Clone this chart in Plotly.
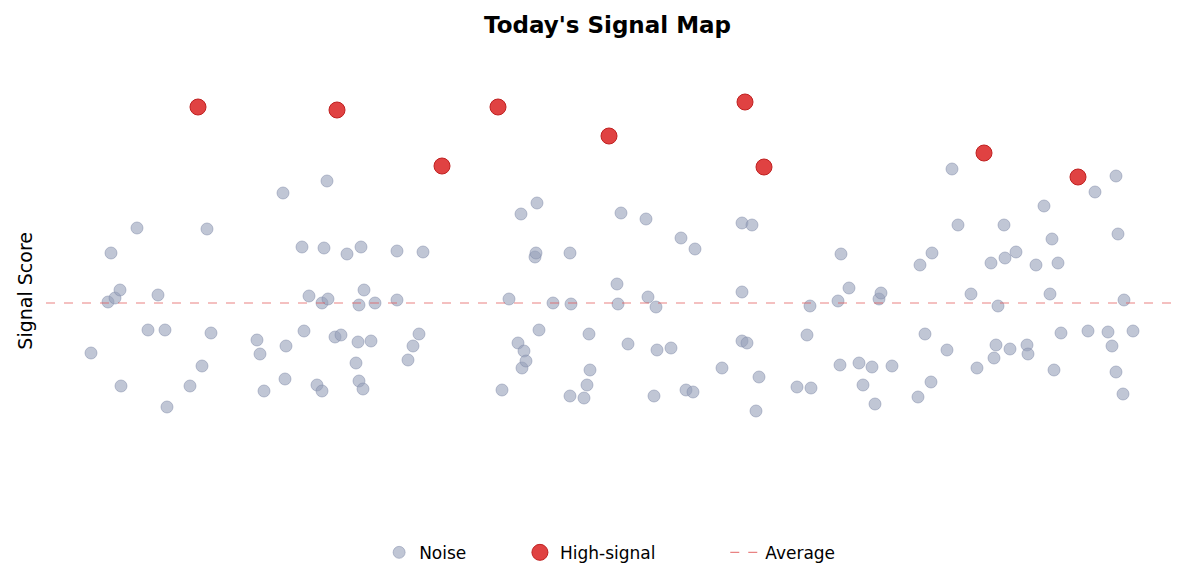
import plotly.graph_objects as go

# positions (x in time units, y = score units, top is high)
noise_x = [90, 107, 114, 110, 119, 120, 136, 147, 157, 164, 166, 189, 201, 206, 210,
           256, 259, 263, 282, 284, 285, 301, 303, 308, 316, 321, 321, 323, 326, 327, 334, 340, 346, 355, 357, 358, 358, 360, 362, 363, 370, 374, 396, 396, 407, 412, 418, 422,
           501, 508, 517, 520, 521, 523, 525, 534, 535, 536, 538, 552, 569, 570, 569, 583, 586, 588, 589, 616, 617, 620, 627, 645, 647, 653, 655, 656, 670, 680, 685, 692, 694,
           721, 741, 741, 741, 746, 751, 755, 758, 796, 806, 809, 810, 837, 839, 840, 848, 858, 862, 871, 874, 878, 880, 891,
           917, 919, 924, 930, 931, 946, 951, 957, 970, 976, 990, 993, 995, 997, 1003, 1004, 1009, 1015, 1026, 1027, 1035, 1043, 1049, 1051, 1053, 1057, 1060, 1087, 1094, 1107, 1111, 1115, 1115, 1117, 1122, 1123, 1132]
noise_y = [352, 301, 297, 252, 289, 385, 227, 329, 294, 329, 406, 385, 365, 228, 332,
           339, 353, 390, 192, 378, 345, 246, 330, 295, 384, 302, 390, 247, 180, 298, 336, 334, 253, 362, 341, 304, 380, 246, 388, 289, 340, 302, 250, 299, 359, 345, 333, 251,
           389, 298, 342, 213, 367, 350, 360, 256, 252, 202, 329, 302, 252, 303, 395, 397, 384, 333, 369, 283, 303, 212, 343, 218, 296, 395, 306, 349, 347, 237, 389, 391, 248,
           367, 222, 291, 340, 342, 224, 410, 376, 386, 334, 305, 387, 300, 364, 253, 287, 362, 384, 366, 403, 298, 292, 365,
           396, 264, 333, 381, 252, 349, 168, 224, 293, 367, 262, 357, 344, 305, 224, 257, 348, 251, 344, 353, 264, 205, 293, 238, 369, 262, 332, 330, 191, 331, 345, 175, 371, 233, 393, 299, 330]
high_x = [197, 336, 441, 497, 608, 744, 763, 983, 1077]
high_y = [106, 109, 165, 106, 135, 101, 166, 152, 176]
average = 302
x_span = [45, 1170]

nb = "\u00a0"  # extra room between legend entries

fig = go.Figure()
fig.add_trace(go.Scatter(
    x=noise_x, y=noise_y, mode="markers", name="Noise" + nb * 9,
    marker=dict(size=12, color="rgba(150,160,185,0.6)",
                line=dict(color="rgba(130,140,170,0.5)", width=1))))
fig.add_trace(go.Scatter(
    x=high_x, y=high_y, mode="markers", name="High-signal" + nb * 12,
    marker=dict(size=16, color="rgba(220,40,40,0.88)",
                line=dict(color="#c02020", width=1))))
fig.add_trace(go.Scatter(
    x=x_span, y=[average, average], mode="lines", name="Average",
    line=dict(color="rgba(225,90,90,0.75)", width=1.2, dash="dash")))

fig.update_layout(
    width=1185, height=584,
    plot_bgcolor="white", paper_bgcolor="white",
    font=dict(family="DejaVu Sans", size=17, color="black"),
    margin=dict(l=38, r=22, t=53, b=71),
    showlegend=True,
    legend=dict(orientation="h", x=0.501, xanchor="center", y=-0.03,
                yanchor="top", font=dict(size=17), itemwidth=30),
    annotations=[
        dict(text="<b>Today's Signal Map</b>", xref="paper", yref="paper",
             x=0.499, y=1.078, xanchor="center", yanchor="middle",
             showarrow=False, font=dict(size=23)),
        dict(text="Signal Score", textangle=-90, xref="paper",
             yref="paper", x=-0.019, y=0.5, xanchor="center",
             yanchor="middle", showarrow=False, font=dict(size=19))],
)
fig.update_xaxes(range=x_span, visible=False)
fig.update_yaxes(range=[520, 60], visible=False)
fig.write_html("out.html")
